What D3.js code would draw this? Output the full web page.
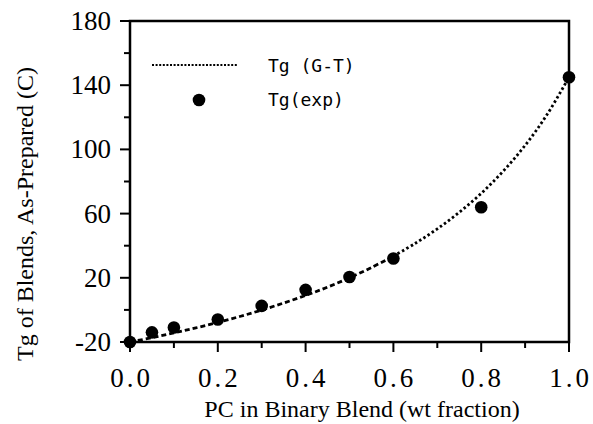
<!DOCTYPE html>
<html>
<head>
<meta charset="utf-8">
<script src="https://cdn.jsdelivr.net/npm/d3@7"></script>
<style>
  html, body { margin: 0; padding: 0; background: #fff; }
  svg { display: block; }
</style>
</head>
<body>
<svg id="chart" width="593" height="424"></svg>
<script>
// ---- data ----
const gtX = [0, 0.05, 0.1, 0.15, 0.2, 0.25, 0.3, 0.35, 0.4, 0.45, 0.5, 0.55, 0.6, 0.65, 0.7, 0.75, 0.8, 0.85, 0.9, 0.95, 1.0];
const gtY = [-20, -17.3, -14.3, -11.2, -7.8, -4.1, -0.1, 4.3, 9.0, 14.2, 20.0, 26.4, 33.5, 41.5, 50.5, 60.8, 72.6, 86.4, 102.5, 121.7, 145];
const expX = [0, 0.05, 0.1, 0.2, 0.3, 0.4, 0.5, 0.6, 0.8, 1.0];
const expY = [-20, -14, -11, -6, 2.5, 12.5, 20.5, 32, 64, 145];
const xMajorTicks = [0, 0.2, 0.4, 0.6, 0.8, 1.0];
const xMinorTicks = [0.1, 0.3, 0.5, 0.7, 0.9];
const yMajorTicks = [-20, 20, 60, 100, 140, 180];
const yMinorTicks = [0, 40, 80, 120, 160];
const legendLabels = ["Tg (G-T)", "Tg(exp)"];
const xTitle = "PC in Binary Blend (wt fraction)";
const yTitle = "Tg of Blends, As-Prepared (C)";

const svg = d3.select("#chart");
const L = 130, R = 569, T = 21, B = 342;
const x = d3.scaleLinear().domain([0, 1]).range([L, R]);
const y = d3.scaleLinear().domain([-20, 180]).range([B, T]);

const serif = "'Liberation Serif', 'Times New Roman', serif";
const mono = "'DejaVu Sans Mono', monospace";

// frame
svg.append("rect").attr("x", L).attr("y", T).attr("width", R - L).attr("height", B - T)
  .attr("fill", "none").attr("stroke", "#000").attr("stroke-width", 2.5);

// x axis ticks
const xa = svg.append("g");
xa.selectAll("line.maj").data(xMajorTicks).join("line")
  .attr("x1", d => x(d)).attr("x2", d => x(d)).attr("y1", B).attr("y2", B + 10)
  .attr("stroke", "#000").attr("stroke-width", 2);
xa.selectAll("line.min").data(xMinorTicks).join("line")
  .attr("x1", d => x(d)).attr("x2", d => x(d)).attr("y1", B).attr("y2", B + 6)
  .attr("stroke", "#000").attr("stroke-width", 2);
xa.selectAll("text").data(xMajorTicks).join("text")
  .attr("x", d => x(d) + 1.5).attr("y", 387)
  .attr("text-anchor", "middle")
  .attr("font-family", serif).attr("font-size", 27).attr("letter-spacing", 3)
  .text(d => d.toFixed(1));

// y axis ticks
const ya = svg.append("g");
ya.selectAll("line.maj").data(yMajorTicks).join("line")
  .attr("x1", L - 10).attr("x2", L).attr("y1", d => y(d)).attr("y2", d => y(d))
  .attr("stroke", "#000").attr("stroke-width", 2);
ya.selectAll("line.min").data(yMinorTicks).join("line")
  .attr("x1", L - 6).attr("x2", L).attr("y1", d => y(d)).attr("y2", d => y(d))
  .attr("stroke", "#000").attr("stroke-width", 2);
ya.selectAll("text").data(yMajorTicks).join("text")
  .attr("x", 111).attr("y", d => y(d) + 9)
  .attr("text-anchor", "end")
  .attr("font-family", serif).attr("font-size", 27)
  .text(d => d);

// axis titles
svg.append("text").attr("x", 362).attr("y", 417).attr("text-anchor", "middle")
  .attr("font-family", serif).attr("font-size", 24).text(xTitle);
svg.append("text").attr("transform", "translate(33,214) rotate(-90)")
  .attr("text-anchor", "middle")
  .attr("font-family", serif).attr("font-size", 24).text(yTitle);

// G-T curve
const pts = gtX.map((d, i) => [d, gtY[i]]);
const line = d3.line().x(d => x(d[0])).y(d => y(d[1])).curve(d3.curveCatmullRom);
const splitAt = gtX.indexOf(0.6);
svg.append("path").datum(pts.slice(0, splitAt + 1)).attr("d", line)
  .attr("fill", "none").attr("stroke", "#000").attr("stroke-width", 2.8)
  .attr("stroke-dasharray", "5,3");
svg.append("path").datum(pts.slice(splitAt)).attr("d", line)
  .attr("fill", "none").attr("stroke", "#000").attr("stroke-width", 2.8)
  .attr("stroke-dasharray", "2.5,2.5");

// experimental points
svg.selectAll("circle.exp").data(expX).join("circle")
  .attr("cx", d => x(d)).attr("cy", (d, i) => y(expY[i])).attr("r", 6.3)
  .attr("fill", "#000");

// legend
svg.append("line").attr("x1", 152).attr("x2", 237).attr("y1", 65).attr("y2", 65)
  .attr("stroke", "#000").attr("stroke-width", 2.2).attr("stroke-dasharray", "2,1.6");
svg.append("circle").attr("cx", 199).attr("cy", 100).attr("r", 6.3).attr("fill", "#000");
svg.selectAll("text.leg").data(legendLabels).join("text")
  .attr("x", 268).attr("y", (d, i) => 72 + i * 34)
  .attr("font-family", mono).attr("font-size", 18)
  .text(d => d);
</script>
</body>
</html>
